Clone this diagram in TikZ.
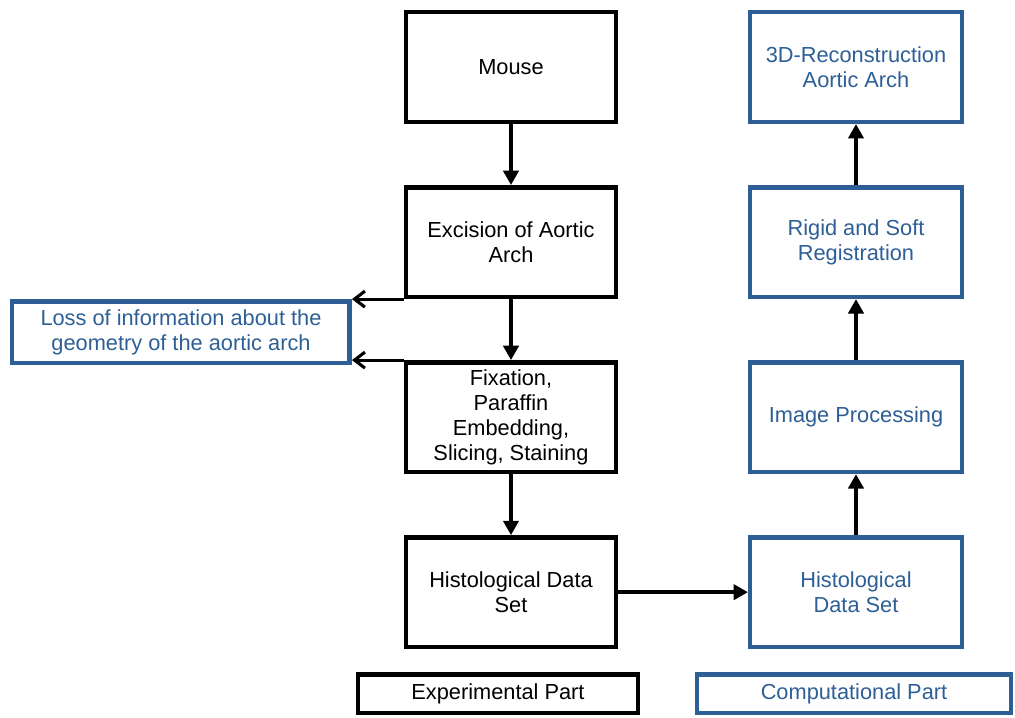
\documentclass[tikz,border=0pt]{standalone}
\usepackage{fontspec}
\setmainfont{Liberation Sans}
\usetikzlibrary{positioning,arrows.meta}
\definecolor{compblue}{RGB}{45,95,150}

\begin{document}
\begin{tikzpicture}[node distance={1.525cm}, font=\fontsize{15.5}{17.8}\selectfont,
    exp/.style = {draw, line width=3.2pt, minimum width=5.24cm, minimum height=2.74cm, align=center},
    comp/.style = {exp, draw=compblue, text=compblue, minimum width=5.29cm},
    legend/.style = {draw, line width=3.2pt, minimum height=0.96cm},
    arr/.style = {line width=2.8pt, -{Triangle[length=3.6mm,width=3.8mm]}},
    lossarr/.style = {line width=2.2pt, -{Straight Barb[length=2.6mm,width=4mm]}}]
        \node[exp] (mouse) {Mouse};
        \node[exp] (excision) [below=of mouse] {Excision of Aortic\\Arch};
        \node[exp] (fixation) [below=of excision] {Fixation,\\Paraffin\\Embedding,\\Slicing, Staining};
        \node[exp] (histoexp) [below=of fixation] {Histological Data\\Set};

        \node[comp] (recon) [right=3.25cm of mouse] {3D-Reconstruction\\Aortic Arch};
        \node[comp] (regis) [below=of recon] {Rigid and Soft\\Registration};
        \node[comp] (improc) [below=of regis] {Image Processing};
        \node[comp] (histocomp) [below=of improc] {Histological\\Data Set};

        \node[exp, draw=compblue, text=compblue, minimum width=8.44cm, minimum height=1.54cm, anchor=north east]
            (loss) at ([xshift=-1.3cm]excision.south west) {Loss of information about the\\geometry of the aortic arch};

        \node[legend, minimum width=6.99cm] (explegend) [below=0.575cm of histoexp, xshift=-0.325cm] {Experimental Part};
        \node[legend, draw=compblue, text=compblue, minimum width=7.84cm] (complegend) [below=0.575cm of histocomp, xshift=-0.05cm] {Computational Part};

        \draw[arr] (mouse) -- (excision);
        \draw[arr] (excision) -- (fixation);
        \draw[arr] (fixation) -- (histoexp);
        \draw[arr] (histoexp) -- (histocomp);
        \draw[arr] (histocomp) -- (improc);
        \draw[arr] (improc) -- (regis);
        \draw[arr] (regis) -- (recon);
        \draw[lossarr] (excision.south west) -- (excision.south west -| loss.east);
        \draw[lossarr] (fixation.north west) -- (fixation.north west -| loss.east);

        \coordinate (tl) at (loss.west |- mouse.north);
        \coordinate (br) at (complegend.east |- complegend.south);
        \useasboundingbox ([shift={(-0.25,0.25)}]tl) rectangle ([shift={(0.05,-0.05)}]br);
    \end{tikzpicture}
\end{document}
